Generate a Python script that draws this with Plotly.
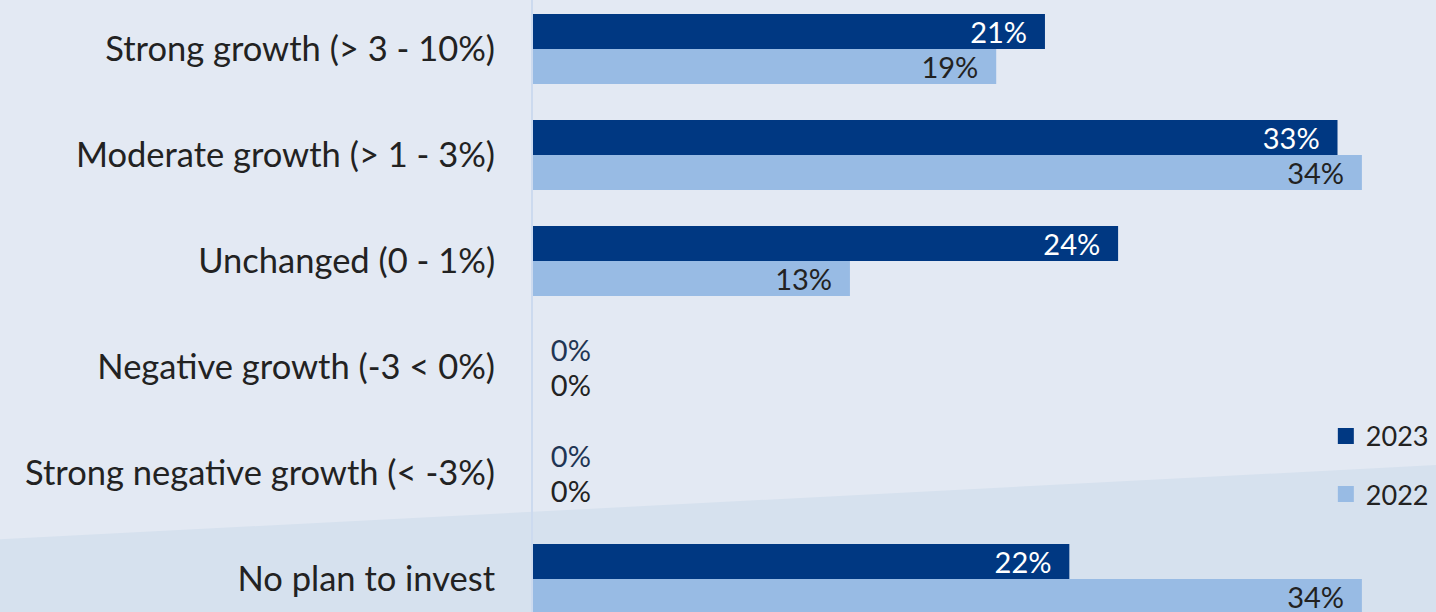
import plotly.graph_objects as go

# survey categories, top to bottom
categories = [
    "Strong growth (> 3 - 10%)",
    "Moderate growth (> 1 - 3%)",
    "Unchanged (0 - 1%)",
    "Negative growth (-3 < 0%)",
    "Strong negative growth (< -3%)",
    "No plan to invest",
]
vals_2023 = [21, 33, 24, 0, 0, 22]
vals_2022 = [19, 34, 13, 0, 0, 34]
years = ["2023", "2022"]

DARK = "#003882"
LIGHT = "#98BBE4"
FONT = "Lato"
NB = "\u00a0"
LBL = 29


def labels(vals):
    # pad labels so they sit off the bar end like the original
    return [f"{NB*2}{v}%" if v == 0 else f"{v}%{NB*2}" for v in vals]


def positions(vals):
    return ["outside" if v == 0 else "inside" for v in vals]


fig = go.Figure()
for name, vals, col, txtcol, outcol in [
    (years[0], vals_2023, DARK, "white", "#1F3554"),
    (years[1], vals_2022, LIGHT, "#222222", "#222222"),
]:
    fig.add_trace(go.Bar(
        name=name, y=categories, x=vals, orientation="h",
        marker=dict(color=col, line=dict(width=0)),
        text=labels(vals), textposition=positions(vals),
        insidetextanchor="end",
        insidetextfont=dict(color=txtcol, size=LBL, family=FONT),
        outsidetextfont=dict(color=outcol, size=LBL, family=FONT),
        cliponaxis=False, showlegend=False, hoverinfo="skip",
    ))
    # legend proxy with a bigger square
    fig.add_trace(go.Scatter(
        name=name, x=[None], y=[None], mode="markers",
        marker=dict(symbol="square", size=18, color=col),
        legendgroup=name, showlegend=True,
    ))

# darker diagonal band at the bottom
fig.add_shape(type="path", xref="paper", yref="paper", layer="below",
              path="M -0.6 0.118 L 1.0 0.24 L 1.0 -0.01 L -0.6 -0.01 Z",
              fillcolor="#D6E1EE", line=dict(width=0))

fig.update_layout(
    width=1436, height=612,
    margin=dict(l=533, r=0, t=0, b=0),
    paper_bgcolor="#E3E9F3", plot_bgcolor="rgba(0,0,0,0)",
    barmode="group", bargap=0.34, bargroupgap=0,
    font=dict(family=FONT, color="#222222"),
    uniformtext=dict(minsize=LBL, mode="show"),
    showlegend=True,
    legend=dict(x=0.878, y=0.327, xanchor="left", yanchor="top",
                bgcolor="rgba(0,0,0,0)", font=dict(size=27, family=FONT, color="#222222"),
                tracegroupgap=20, itemwidth=30, itemsizing="trace"),
    xaxis=dict(range=[0, 37.04], showgrid=False, zeroline=False,
               showticklabels=False, fixedrange=True),
    yaxis=dict(categoryorder="array", categoryarray=categories,
               range=[5.311, -0.462], showgrid=False, zeroline=False,
               showline=True, linecolor="#CCDAEF", linewidth=2,
               ticks="", ticklabelstandoff=29, fixedrange=True,
               tickfont=dict(size=34.5, family=FONT, color="#222222")),
)

fig.write_html("out.html", config={"displayModeBar": False},
               post_script="document.body.style.margin='0';")
